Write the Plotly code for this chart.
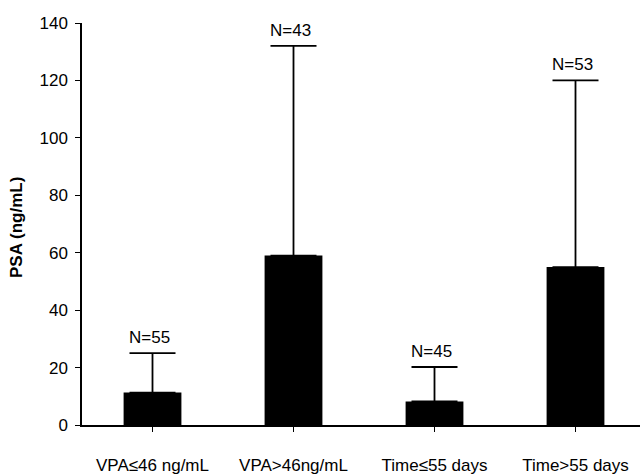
import plotly.graph_objects as go

categories = ["VPA≤46 ng/mL", "VPA>46ng/mL", "Time≤55 days", "Time>55 days"]
means = [11.3, 59.0, 8.2, 55.0]
sd_upper = [13.7, 73.0, 12.0, 65.0]
n_labels = ["N=55", "N=43", "N=45", "N=53"]
y_ticks = [0, 20, 40, 60, 80, 100, 120, 140]

FONT = "Liberation Sans, Arial, Helvetica, sans-serif"
W, H = 640, 475
ML, MR, MT, MB = 82, 0, 23, 45

fig = go.Figure()
fig.add_trace(go.Bar(
    x=list(range(len(categories))),
    y=means,
    marker=dict(color="black", line=dict(width=0)),
    error_y=dict(type="data", symmetric=False, array=sd_upper,
                 arrayminus=[0] * len(means), color="black",
                 thickness=1.8, width=23),
    showlegend=False,
))

for i, (m, s, t) in enumerate(zip(means, sd_upper, n_labels)):
    fig.add_annotation(x=i, y=m + s, text=t, showarrow=False,
                       xanchor="center", yanchor="bottom", yshift=4, xshift=-3,
                       font=dict(family=FONT, size=17, color="black"))

fig.add_annotation(xref="paper", yref="paper", x=(16 - ML) / (W - ML - MR), y=0.49,
                   text="<b>PSA (ng/mL)</b>", textangle=-90, showarrow=False,
                   xanchor="center", yanchor="middle",
                   font=dict(family=FONT, size=17, color="black"))

fig.update_layout(
    width=W, height=H,
    margin=dict(l=ML, r=MR, t=MT, b=MB, pad=0),
    paper_bgcolor="white", plot_bgcolor="white",
    bargap=0.59,
    font=dict(family=FONT, color="black"),
    xaxis=dict(
        range=[-0.5, 3.5 - 6 / 141],
        tickmode="array", tickvals=list(range(len(categories))), ticktext=categories,
        tickson="boundaries", ticks="outside", ticklen=5, tickwidth=1.3, tickcolor="black",
        showline=True, linecolor="black", linewidth=1.5,
        showgrid=False, zeroline=False,
        tickfont=dict(family=FONT, size=17, color="black"),
        ticklabelstandoff=19,
    ),
    yaxis=dict(
        range=[0, 140], tickmode="array", tickvals=y_ticks,
        ticks="outside", ticklen=5, tickwidth=1.3, tickcolor="black",
        showline=True, linecolor="black", linewidth=1.5,
        showgrid=False, zeroline=False,
        tickfont=dict(family=FONT, size=17, color="black"),
        ticklabelstandoff=4,
    ),
)

fig.write_html("out.html")
